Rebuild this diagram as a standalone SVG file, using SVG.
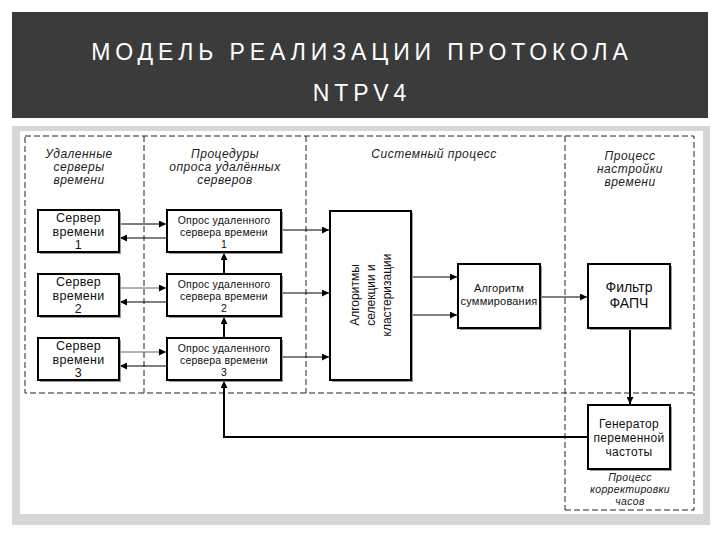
<svg xmlns="http://www.w3.org/2000/svg" width="720" height="540" viewBox="0 0 720 540">
<defs>
<marker id="ah" viewBox="0 0 10 10" refX="10" refY="5" markerWidth="7" markerHeight="7" markerUnits="userSpaceOnUse" orient="auto">
<path d="M0,0 L10,5 L0,10 z" fill="#000"/>
</marker>
</defs>
<style>
.title{font-family:"Liberation Sans","DejaVu Sans",sans-serif;font-size:23px;fill:#fff;text-anchor:middle;letter-spacing:4.9px}
.hdr{font-family:"Liberation Sans","DejaVu Sans",sans-serif;font-size:12px;font-style:italic;fill:#222;text-anchor:middle;letter-spacing:0.5px}
.hdr2{font-family:"Liberation Sans","DejaVu Sans",sans-serif;font-size:10.5px;font-style:italic;fill:#222;text-anchor:middle;letter-spacing:0.3px}
.bx{fill:#fff;stroke:#000;stroke-width:2}
.sh{fill:#9a9a9a}
.ts{font-family:"Liberation Sans","DejaVu Sans",sans-serif;font-size:12.5px;fill:#111;text-anchor:middle;letter-spacing:0.3px}
.tf{font-family:"Liberation Sans","DejaVu Sans",sans-serif;font-size:14px;fill:#111;text-anchor:middle}
.tq{font-family:"Liberation Sans","DejaVu Sans",sans-serif;font-size:10.5px;fill:#111;text-anchor:middle;letter-spacing:0.2px}
.t12{font-family:"Liberation Sans","DejaVu Sans",sans-serif;font-size:12px;fill:#111;text-anchor:middle}
.tsum{font-family:"Liberation Sans","DejaVu Sans",sans-serif;font-size:11px;fill:#111;text-anchor:middle;letter-spacing:0.2px}
.tg{font-family:"Liberation Sans","DejaVu Sans",sans-serif;font-size:12px;fill:#111;text-anchor:middle;letter-spacing:0.3px}
.dash{fill:none;stroke:#222;stroke-width:1;stroke-dasharray:6,3}
.c{fill:none;stroke:#000;stroke-width:1.2}
.ct{fill:none;stroke:#000;stroke-width:2}
.cg{fill:none;stroke:#555;stroke-width:0.9}
</style>
<rect x="0" y="0" width="720" height="540" fill="#fff"/>
<g id="title">
<rect x="12" y="12" width="696" height="106" fill="#3b3b3b"/>
<text class="title" x="362" y="60">МОДЕЛЬ РЕАЛИЗАЦИИ ПРОТОКОЛА</text>
<text class="title" x="362" y="101">NTPV4</text>
</g>
<g id="frame">
<rect x="12" y="126" width="698" height="399" fill="#d6d6d6"/>
<rect x="20" y="131" width="683" height="383" fill="#fff"/>
</g>
<g id="regions">
<rect class="dash" x="25" y="136" width="669" height="257"/>
<line class="dash" x1="144" y1="136" x2="144" y2="393"/>
<line class="dash" x1="306" y1="136" x2="306" y2="393"/>
<line class="dash" x1="565" y1="136" x2="565" y2="510"/>
<polyline class="dash" points="565,510 694,510 694,393"/>
<text class="hdr" x="79" y="158">Удаленные</text>
<text class="hdr" x="79" y="171">серверы</text>
<text class="hdr" x="79" y="184">времени</text>
<text class="hdr" x="225" y="158">Процедуры</text>
<text class="hdr" x="225" y="171">опроса удалённых</text>
<text class="hdr" x="225" y="184">серверов</text>
<text class="hdr" x="434" y="158">Системный процесс</text>
<text class="hdr" x="630" y="160">Процесс</text>
<text class="hdr" x="630" y="173">настройки</text>
<text class="hdr" x="630" y="186">времени</text>
<text class="hdr2" x="630" y="481">Процесс</text>
<text class="hdr2" x="630" y="493">корректировки</text>
<text class="hdr2" x="630" y="505">часов</text>
</g>
<g id="connectors">
<line class="c" x1="119" y1="224" x2="166" y2="224" marker-end="url(#ah)"/>
<line class="c" x1="167" y1="238" x2="120" y2="238" marker-end="url(#ah)"/>
<line class="cg" x1="119" y1="288" x2="166" y2="288" marker-end="url(#ah)"/>
<line class="c" x1="167" y1="302" x2="120" y2="302" marker-end="url(#ah)"/>
<line class="cg" x1="119" y1="352" x2="166" y2="352" marker-end="url(#ah)"/>
<line class="c" x1="167" y1="366" x2="120" y2="366" marker-end="url(#ah)"/>
<line class="ct" x1="224" y1="274" x2="224" y2="253" marker-end="url(#ah)"/>
<line class="ct" x1="224" y1="338" x2="224" y2="317" marker-end="url(#ah)"/>
<polyline class="ct" points="588,437 224,437 224,381" marker-end="url(#ah)"/>
<line class="c" x1="281" y1="230" x2="329" y2="230" marker-end="url(#ah)"/>
<line class="c" x1="281" y1="293" x2="329" y2="293" marker-end="url(#ah)"/>
<line class="c" x1="281" y1="357" x2="329" y2="357" marker-end="url(#ah)"/>
<line class="c" x1="411" y1="277" x2="457" y2="277" marker-end="url(#ah)"/>
<line class="c" x1="411" y1="315" x2="457" y2="315" marker-end="url(#ah)"/>
<line class="c" x1="540" y1="297" x2="587" y2="297" marker-end="url(#ah)"/>
<line class="ct" x1="630" y1="328" x2="630" y2="404" marker-end="url(#ah)"/>
</g>
<g id="server1">
<rect class="sh" x="40" y="212" width="81" height="42"/>
<rect class="bx" x="38" y="210" width="81" height="42"/>
<text class="ts" x="78.5" y="222">Сервер</text>
<text class="ts" x="78.5" y="235.5">времени</text>
<text class="ts" x="78.5" y="249">1</text>
</g>
<g id="server2">
<rect class="sh" x="40" y="276" width="81" height="42"/>
<rect class="bx" x="38" y="274" width="81" height="42"/>
<text class="ts" x="78.5" y="286">Сервер</text>
<text class="ts" x="78.5" y="299.5">времени</text>
<text class="ts" x="78.5" y="313">2</text>
</g>
<g id="server3">
<rect class="sh" x="40" y="340" width="81" height="42"/>
<rect class="bx" x="38" y="338" width="81" height="42"/>
<text class="ts" x="78.5" y="350">Сервер</text>
<text class="ts" x="78.5" y="363.5">времени</text>
<text class="ts" x="78.5" y="377">3</text>
</g>
<g id="query1">
<rect class="sh" x="169" y="212" width="114" height="42"/>
<rect class="bx" x="167" y="210" width="114" height="42"/>
<text class="tq" x="224" y="224">Опрос удаленного</text>
<text class="tq" x="224" y="236">сервера времени</text>
<text class="tq" x="224" y="248">1</text>
</g>
<g id="query2">
<rect class="sh" x="169" y="276" width="114" height="42"/>
<rect class="bx" x="167" y="274" width="114" height="42"/>
<text class="tq" x="224" y="288">Опрос удаленного</text>
<text class="tq" x="224" y="300">сервера времени</text>
<text class="tq" x="224" y="312">2</text>
</g>
<g id="query3">
<rect class="sh" x="169" y="340" width="114" height="42"/>
<rect class="bx" x="167" y="338" width="114" height="42"/>
<text class="tq" x="224" y="352">Опрос удаленного</text>
<text class="tq" x="224" y="364">сервера времени</text>
<text class="tq" x="224" y="376">3</text>
</g>
<g id="algorithms">
<rect class="sh" x="332" y="213" width="81" height="169"/>
<rect class="bx" x="330" y="211" width="81" height="169"/>
<g transform="translate(370.5,295) rotate(-90)">
<text class="t12" x="0" y="-12">Алгоритмы</text>
<text class="t12" x="0" y="4">селекции и</text>
<text class="t12" x="0" y="20">кластеризации</text>
</g>
</g>
<g id="summation">
<rect class="sh" x="460" y="266" width="82" height="64"/>
<rect class="bx" x="458" y="264" width="82" height="64"/>
<text class="tsum" x="499" y="292">Алгоритм</text>
<text class="tsum" x="499" y="305">суммирования</text>
</g>
<g id="filter">
<rect class="sh" x="590" y="266" width="82" height="64"/>
<rect class="bx" x="588" y="264" width="82" height="64"/>
<text class="tf" x="629" y="292">Фильтр</text>
<text class="tf" x="629" y="308">ФАПЧ</text>
</g>
<g id="generator">
<rect class="sh" x="590" y="407" width="82" height="64"/>
<rect class="bx" x="588" y="405" width="82" height="64"/>
<text class="tg" x="629" y="428">Генератор</text>
<text class="tg" x="629" y="442">переменной</text>
<text class="tg" x="629" y="456">частоты</text>
</g>
</svg>
